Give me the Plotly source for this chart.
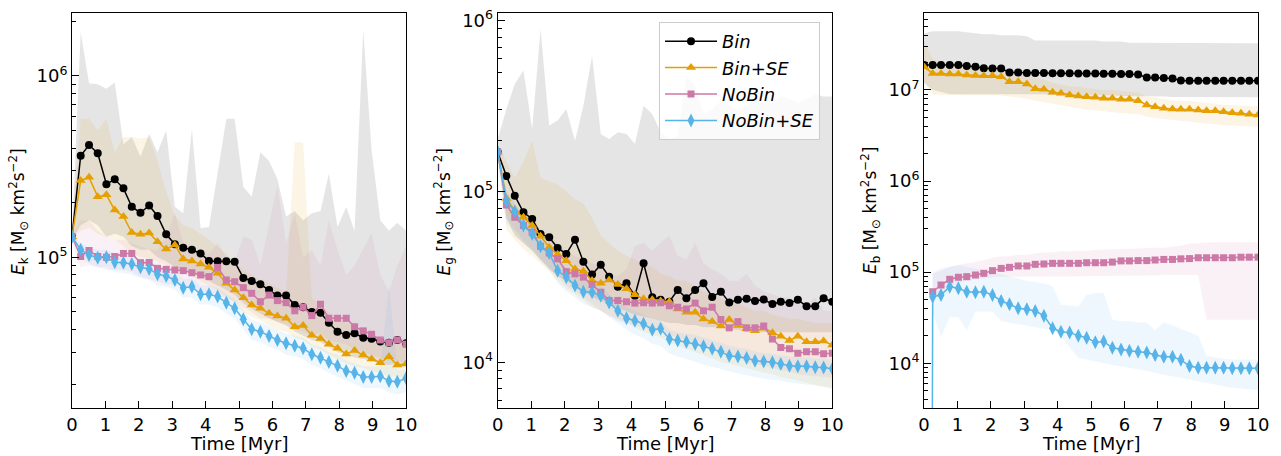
import math
import plotly.graph_objects as go

# ---------------- data ----------------
times = [0.0, 0.26, 0.51, 0.77, 1.03, 1.28, 1.54, 1.79, 2.05, 2.31, 2.56, 2.82, 3.08, 3.33,
         3.59, 3.85, 4.10, 4.36, 4.62, 4.87, 5.13, 5.38, 5.64, 5.90, 6.15, 6.41, 6.67, 6.92,
         7.18, 7.44, 7.69, 7.95, 8.21, 8.46, 8.72, 8.97, 9.23, 9.49, 9.74, 10.0]

series_names = ["Bin", "Bin+SE", "NoBin", "NoBin+SE"]

# Panel 1: kinetic energy E_k
ek_bin = [1.3e5, 3.63e5, 4.16e5, 3.75e5, 2.53e5, 2.69e5, 2.40e5, 1.90e5, 1.76e5, 1.93e5,
          1.69e5, 1.34e5, 1.18e5, 1.13e5, 1.10e5, 1.05e5, 9.55e4, 9.5e4, 9.5e4, 9.45e4,
          7.7e4, 7.4e4, 7.1e4, 6.6e4, 6.15e4, 6.15e4, 5.45e4, 5.3e4, 5.0e4, 4.95e4,
          4.36e4, 3.89e4, 3.73e4, 3.81e4, 3.6e4, 3.55e4, 3.43e4, 3.38e4, 3.5e4, 3.36e4]
ek_binse = [1.3e5, 2.65e5, 2.76e5, 2.16e5, 2.21e5, 1.82e5, 1.68e5, 1.37e5, 1.34e5, 1.36e5,
            1.22e5, 1.11e5, 1.17e5, 9.8e4, 9.55e4, 9.19e4, 8.8e4, 8.16e4, 7.2e4, 6.6e4,
            5.99e4, 5.46e4, 5.23e4, 4.91e4, 4.75e4, 4.61e4, 4.14e4, 4.2e4, 3.72e4, 3.57e4,
            3.32e4, 3.15e4, 2.93e4, 3.06e4, 2.89e4, 2.75e4, 2.62e4, 2.83e4, 2.55e4, 2.58e4]
ek_nobin = [1.3e5, 1.01e5, 1.09e5, 1.01e5, 1.0e5, 1.01e5, 1.05e5, 1.05e5, 9.34e4, 9.36e4,
            8.69e4, 8.58e4, 8.51e4, 8.44e4, 8.22e4, 7.99e4, 7.82e4, 8.8e4, 7.5e4, 7.33e4,
            6.8e4, 6.33e4, 5.69e4, 6.19e4, 5.77e4, 5.62e4, 5.07e4, 5.3e4, 4.77e4, 5.51e4,
            4.61e4, 4.61e4, 4.61e4, 4.14e4, 3.93e4, 3.76e4, 3.5e4, 3.38e4, 3.5e4, 3.32e4]
ek_nobinse = [1.3e5, 1.10e5, 1.03e5, 9.95e4, 1.0e5, 9.38e4, 9.34e4, 9.19e4, 8.8e4, 8.62e4,
              8.06e4, 7.88e4, 7.5e4, 6.8e4, 6.88e4, 6.25e4, 6.25e4, 6.07e4, 5.62e4, 5.23e4,
              4.55e4, 4.01e4, 3.89e4, 3.68e4, 3.5e4, 3.36e4, 3.25e4, 3.15e4, 2.92e4, 2.79e4,
              2.65e4, 2.52e4, 2.36e4, 2.31e4, 2.19e4, 2.19e4, 2.21e4, 2.08e4, 2.06e4, 2.15e4]

ek_bin_hi = [1.3e5, 1.75e6, 9.1e5, 9.0e5, 8.5e5, 9.2e5, 4.2e5, 4.6e5, 3.6e5, 4.8e5,
             3.8e5, 5.0e5, 1.9e5, 1.75e5, 5.1e5, 1.45e5, 1.47e5, 2.9e5, 5.8e5, 5.8e5,
             2.45e5, 2.16e5, 3.8e5, 3.4e5, 2.7e5, 1.68e5, 1.8e5, 1.6e5, 1.75e5, 1.8e5,
             2.9e5, 1.47e5, 1.9e5, 1.4e5, 1.8e6, 3.9e5, 1.6e5, 1.4e5, 1.55e5, 1.4e5]
ek_bin_lo = [1.25e5, 1.5e5, 1.6e5, 1.5e5, 1.3e5, 1.35e5, 1.3e5, 1.15e5, 1.1e5, 1.1e5,
             1.0e5, 9.5e4, 8.8e4, 8.5e4, 8.2e4, 7.8e4, 7.4e4, 7.0e4, 6.6e4, 6.2e4,
             5.6e4, 5.2e4, 4.9e4, 4.6e4, 4.4e4, 4.2e4, 3.9e4, 3.7e4, 3.5e4, 3.4e4,
             3.2e4, 3.0e4, 2.9e4, 2.8e4, 2.75e4, 2.7e4, 2.6e4, 2.55e4, 2.6e4, 2.5e4]
ek_binse_hi = [1.4e5, 5.8e5, 5.8e5, 5.0e5, 5.8e5, 3.8e5, 4.6e5, 4.6e5, 4.5e5, 4.6e5,
               3.4e5, 2.3e5, 1.7e5, 1.5e5, 1.45e5, 1.35e5, 1.25e5, 1.15e5, 1.05e5, 9.5e4,
               8.5e4, 8.0e4, 7.5e4, 7.2e4, 6.8e4, 6.5e4, 4.3e5, 4.3e5, 6.0e4, 5.5e4,
               5.0e4, 4.6e4, 4.4e4, 4.2e4, 4.0e4, 3.8e4, 3.6e4, 3.5e4, 3.4e4, 3.3e4]
ek_binse_lo = [1.25e5, 1.4e5, 1.45e5, 1.35e5, 1.3e5, 1.25e5, 1.15e5, 1.05e5, 1.0e5, 9.8e4,
               9.5e4, 9.0e4, 8.8e4, 8.2e4, 7.8e4, 7.4e4, 7.0e4, 6.6e4, 6.0e4, 5.6e4,
               5.0e4, 4.7e4, 4.5e4, 4.2e4, 4.0e4, 3.9e4, 3.6e4, 3.5e4, 3.2e4, 3.1e4,
               2.9e4, 2.75e4, 2.6e4, 2.5e4, 2.45e4, 2.35e4, 2.3e4, 2.2e4, 2.2e4, 2.15e4]
ek_nobin_hi = [1.3e5, 1.6e5, 1.6e5, 1.4e5, 1.3e5, 1.25e5, 1.25e5, 1.2e5, 1.15e5, 1.1e5,
               1.1e5, 1.3e5, 1.75e5, 1.2e5, 1.1e5, 1.05e5, 1.05e5, 1.2e5, 1.0e5, 9.5e4,
               1.3e5, 1.25e5, 9.0e4, 1.5e5, 2.5e5, 1.2e5, 1.75e5, 1.0e5, 1.1e5, 9.0e4,
               1.6e5, 1.1e5, 8.0e4, 9.0e4, 1.1e5, 1.36e5, 8.0e4, 6.5e4, 9.0e4, 1.15e5]
ek_nobin_lo = [1.2e5, 8.8e4, 9.0e4, 8.8e4, 8.5e4, 8.5e4, 8.5e4, 8.3e4, 7.8e4, 7.6e4,
               7.3e4, 7.1e4, 7.0e4, 6.9e4, 6.7e4, 6.5e4, 6.3e4, 6.3e4, 5.9e4, 5.7e4,
               5.3e4, 5.0e4, 4.6e4, 4.6e4, 4.4e4, 4.3e4, 4.0e4, 3.9e4, 3.7e4, 3.8e4,
               3.5e4, 3.4e4, 3.3e4, 3.1e4, 3.0e4, 2.9e4, 2.8e4, 2.7e4, 2.7e4, 2.6e4]
ek_nobinse_hi = [1.35e5, 1.2e5, 1.13e5, 1.1e5, 1.1e5, 1.05e5, 1.04e5, 1.02e5, 9.8e4, 9.6e4,
                 9.0e4, 8.8e4, 8.4e4, 7.6e4, 7.7e4, 7.0e4, 7.0e4, 6.8e4, 6.3e4, 5.9e4,
                 5.1e4, 4.5e4, 4.4e4, 4.2e4, 4.0e4, 3.8e4, 3.7e4, 3.6e4, 3.3e4, 3.2e4,
                 3.0e4, 2.9e4, 2.7e4, 2.6e4, 2.5e4, 2.5e4, 2.5e4, 7.0e4, 2.4e4, 2.4e4]
ek_nobinse_lo = [1.25e5, 1.0e5, 9.2e4, 8.8e4, 8.8e4, 8.3e4, 8.2e4, 8.0e4, 7.7e4, 7.5e4,
                 7.0e4, 6.9e4, 6.6e4, 6.0e4, 6.0e4, 5.5e4, 5.5e4, 5.3e4, 4.9e4, 4.6e4,
                 4.0e4, 3.5e4, 3.4e4, 3.2e4, 3.1e4, 2.9e4, 2.85e4, 2.75e4, 2.55e4, 2.45e4,
                 2.3e4, 2.2e4, 2.1e4, 2.0e4, 1.9e4, 1.9e4, 1.9e4, 1.8e4, 1.75e4, 1.8e4]

# Panel 2: potential energy E_g
eg_bin = [1.7e5, 1.23e5, 9.45e4, 7.55e4, 6.9e4, 5.64e4, 5.39e4, 4.67e4, 4.31e4, 5.22e4,
          3.88e4, 3.26e4, 3.72e4, 3.17e4, 2.77e4, 2.9e4, 2.45e4, 3.8e4, 2.4e4, 2.32e4,
          2.26e4, 2.65e4, 2.37e4, 2.65e4, 2.9e4, 2.41e4, 2.59e4, 2.24e4, 2.32e4, 2.35e4,
          2.28e4, 2.33e4, 2.19e4, 2.26e4, 2.22e4, 2.32e4, 2.13e4, 2.13e4, 2.37e4, 2.26e4]
eg_binse = [1.7e5, 9.1e4, 7.7e4, 7.06e4, 6.31e4, 5.47e4, 4.71e4, 4.27e4, 3.93e4, 3.52e4,
            3.41e4, 3.01e4, 2.9e4, 3.03e4, 2.85e4, 2.69e4, 2.48e4, 2.35e4, 2.32e4, 2.28e4,
            2.26e4, 2.05e4, 1.96e4, 1.96e4, 1.79e4, 1.73e4, 1.63e4, 1.78e4, 1.64e4, 1.57e4,
            1.53e4, 1.58e4, 1.49e4, 1.42e4, 1.34e4, 1.42e4, 1.32e4, 1.32e4, 1.33e4, 1.26e4]
eg_nobin = [1.7e5, 8.34e4, 7.06e4, 6.31e4, 5.77e4, 4.78e4, 4.36e4, 4.03e4, 3.39e4, 3.29e4,
            3.15e4, 2.85e4, 2.57e4, 2.3e4, 2.3e4, 2.26e4, 2.22e4, 2.23e4, 2.22e4, 2.23e4,
            2.14e4, 2.1e4, 2.05e4, 2.22e4, 2.0e4, 2.1e4, 1.78e4, 1.59e4, 1.73e4, 1.59e4,
            1.59e4, 1.63e4, 1.37e4, 1.22e4, 1.2e4, 1.13e4, 1.15e4, 1.15e4, 1.12e4, 1.13e4]
eg_nobinse = [1.7e5, 8.83e4, 7.63e4, 6.31e4, 5.64e4, 4.78e4, 4.36e4, 3.43e4, 3.15e4, 2.81e4,
              2.59e4, 2.57e4, 2.45e4, 2.24e4, 2.0e4, 1.81e4, 1.75e4, 1.68e4, 1.55e4, 1.57e4,
              1.37e4, 1.34e4, 1.32e4, 1.28e4, 1.24e4, 1.2e4, 1.15e4, 1.09e4, 1.08e4, 1.06e4,
              1.02e4, 1.01e4, 1.0e4, 9.78e3, 9.55e3, 9.48e3, 9.48e3, 9.35e3, 9.3e3, 9.15e3]

eg_bin_hi = [2.03e5, 3.04e5, 4.26e5, 5.1e5, 2.32e5, 8.9e5, 2.43e5, 2.6e5, 3.04e5, 1.98e5,
             3.18e5, 6.24e5, 2.17e5, 2.03e5, 2.22e5, 2.17e5, 1.9e5, 3.18e5, 2.84e5, 2.22e5,
             2.03e5, 2.1e5, 4.77e5, 4.16e5, 2.84e5, 3.04e5, 3.4e5, 3.18e5, 3.0e5, 3.2e5,
             3.5e5, 3.3e5, 3.4e5, 3.6e5, 3.5e5, 3.3e5, 3.5e5, 3.7e5, 3.6e5, 3.6e5]
eg_bin_lo = [1.6e5, 7.0e4, 5.5e4, 5.0e4, 4.5e4, 4.0e4, 3.5e4, 3.2e4, 3.0e4, 2.8e4,
             2.6e4, 2.4e4, 2.3e4, 2.2e4, 2.1e4, 2.0e4, 1.9e4, 1.85e4, 1.8e4, 1.75e4,
             1.7e4, 1.7e4, 1.65e4, 1.65e4, 1.6e4, 1.6e4, 1.6e4, 1.55e4, 1.55e4, 1.5e4,
             1.5e4, 1.5e4, 1.5e4, 1.5e4, 1.5e4, 1.5e4, 1.5e4, 1.5e4, 1.5e4, 1.5e4]
eg_binse_hi = [1.9e5, 1.5e5, 1.2e5, 1.5e5, 1.98e5, 1.2e5, 1.15e5, 1.1e5, 1.0e5, 9.0e4,
               8.5e4, 7.0e4, 5.5e4, 5.0e4, 4.5e4, 4.2e4, 4.0e4, 3.8e4, 3.6e4, 3.3e4,
               3.2e4, 3.0e4, 3.0e4, 2.8e4, 2.6e4, 2.5e4, 2.4e4, 2.3e4, 2.2e4, 2.1e4,
               2.0e4, 2.0e4, 1.9e4, 1.85e4, 1.8e4, 1.8e4, 1.75e4, 1.7e4, 1.7e4, 1.7e4]
eg_binse_lo = [1.5e5, 6.0e4, 5.2e4, 4.6e4, 4.2e4, 3.8e4, 3.4e4, 3.0e4, 2.7e4, 2.5e4,
               2.3e4, 2.1e4, 2.0e4, 1.9e4, 1.8e4, 1.7e4, 1.6e4, 1.5e4, 1.45e4, 1.4e4,
               1.3e4, 1.25e4, 1.2e4, 1.15e4, 1.1e4, 1.05e4, 1.0e4, 9.8e3, 9.5e3, 9.2e3,
               9.0e3, 8.7e3, 8.5e3, 8.2e3, 8.0e3, 7.8e3, 7.6e3, 7.4e3, 7.2e3, 7.0e3]
eg_nobin_hi = [1.75e5, 1.0e5, 8.5e4, 7.5e4, 7.0e4, 6.0e4, 5.5e4, 5.0e4, 4.5e4, 4.2e4,
               4.0e4, 3.8e4, 3.6e4, 3.3e4, 3.2e4, 3.5e4, 4.8e4, 5.0e4, 4.5e4, 5.0e4,
               5.5e4, 4.2e4, 4.0e4, 5.0e4, 3.8e4, 3.5e4, 3.3e4, 3.0e4, 3.0e4, 3.3e4,
               2.8e4, 2.6e4, 2.5e4, 2.4e4, 2.4e4, 2.2e4, 2.2e4, 2.4e4, 2.0e4, 2.0e4]
eg_nobin_lo = [1.6e5, 7.0e4, 6.0e4, 5.2e4, 4.6e4, 4.0e4, 3.6e4, 3.2e4, 2.8e4, 2.6e4,
               2.4e4, 2.2e4, 2.0e4, 1.85e4, 1.75e4, 1.7e4, 1.65e4, 1.6e4, 1.55e4, 1.5e4,
               1.45e4, 1.4e4, 1.35e4, 1.3e4, 1.25e4, 1.2e4, 1.15e4, 1.1e4, 1.05e4, 1.0e4,
               9.8e3, 9.5e3, 9.2e3, 9.0e3, 8.8e3, 8.5e3, 8.4e3, 8.3e3, 8.2e3, 8.1e3]
eg_nobinse_hi = [1.75e5, 1.0e5, 8.5e4, 7.2e4, 6.4e4, 5.4e4, 4.9e4, 3.9e4, 3.6e4, 3.2e4,
                 3.0e4, 2.9e4, 2.8e4, 2.5e4, 2.3e4, 2.1e4, 2.0e4, 1.9e4, 1.8e4, 1.75e4,
                 1.55e4, 1.5e4, 1.48e4, 1.45e4, 1.4e4, 1.35e4, 1.3e4, 1.25e4, 1.22e4, 1.2e4,
                 1.15e4, 1.14e4, 1.12e4, 1.1e4, 1.08e4, 1.07e4, 1.07e4, 1.05e4, 1.05e4, 1.03e4]
eg_nobinse_lo = [1.6e5, 6.5e4, 5.8e4, 5.0e4, 4.5e4, 3.9e4, 3.5e4, 2.9e4, 2.6e4, 2.4e4,
                 2.2e4, 2.1e4, 2.0e4, 1.85e4, 1.7e4, 1.55e4, 1.45e4, 1.38e4, 1.28e4, 1.25e4,
                 1.12e4, 1.08e4, 1.04e4, 1.0e4, 9.7e3, 9.4e3, 9.1e3, 8.8e3, 8.6e3, 8.4e3,
                 8.2e3, 8.0e3, 7.9e3, 7.8e3, 7.6e3, 7.5e3, 7.4e3, 7.3e3, 7.2e3, 7.1e3]

# Panel 3: binding energy E_b  (None = no value, 0 = zero energy)
eb_bin = [1.88e7, 1.88e7, 1.88e7, 1.88e7, 1.88e7, 1.83e7, 1.8e7, 1.73e7, 1.72e7, 1.72e7,
          1.56e7, 1.56e7, 1.54e7, 1.54e7, 1.54e7, 1.53e7, 1.53e7, 1.53e7, 1.52e7, 1.52e7,
          1.52e7, 1.51e7, 1.51e7, 1.5e7, 1.5e7, 1.48e7, 1.37e7, 1.37e7, 1.35e7, 1.34e7,
          1.27e7, 1.26e7, 1.26e7, 1.26e7, 1.26e7, 1.26e7, 1.26e7, 1.26e7, 1.26e7, 1.26e7]
eb_binse = [1.8e7, 1.52e7, 1.52e7, 1.5e7, 1.5e7, 1.46e7, 1.44e7, 1.43e7, 1.43e7, 1.4e7,
            1.23e7, 1.23e7, 1.16e7, 1.03e7, 1.02e7, 9.44e6, 9.19e6, 8.81e6, 8.59e6, 8.45e6,
            8.3e6, 8.1e6, 8.1e6, 7.9e6, 7.9e6, 7.64e6, 6.84e6, 6.56e6, 6.29e6, 6.18e6,
            6.14e6, 6.14e6, 6.03e6, 5.93e6, 5.93e6, 5.78e6, 5.64e6, 5.55e6, 5.41e6, 5.32e6]
eb_nobin = [None, 6.1e4, 7.23e4, 8.35e4, 8.79e4, 8.93e4, 9.31e4, 9.72e4, 1.04e5, 1.1e5,
            1.13e5, 1.17e5, 1.17e5, 1.22e5, 1.23e5, 1.25e5, 1.25e5, 1.25e5, 1.25e5, 1.27e5,
            1.27e5, 1.27e5, 1.29e5, 1.33e5, 1.33e5, 1.34e5, 1.34e5, 1.36e5, 1.38e5, 1.38e5,
            1.4e5, 1.41e5, 1.44e5, 1.44e5, 1.44e5, 1.44e5, 1.44e5, 1.46e5, 1.46e5, 1.46e5]
eb_nobinse = [0, 5.38e4, 5.62e4, 6.94e4, 6.65e4, 6.1e4, 6.01e4, 6.1e4, 5.62e4, 4.83e4,
              4.44e4, 4.01e4, 3.91e4, 3.75e4, 3.33e4, 2.42e4, 2.22e4, 2.17e4, 2.01e4, 1.91e4,
              1.7e4, 1.73e4, 1.48e4, 1.42e4, 1.37e4, 1.34e4, 1.31e4, 1.23e4, 1.18e4, 1.18e4,
              1.09e4, 9.33e3, 8.95e3, 8.95e3, 8.95e3, 8.95e3, 8.81e3, 8.81e3, 8.81e3, 8.81e3]

eb_bin_hi = [4.2e7, 4.4e7, 4.4e7, 4.4e7, 4.4e7, 4.3e7, 4.2e7, 4.1e7, 4.1e7, 4.0e7,
             4.0e7, 4.0e7, 3.9e7, 3.5e7, 3.5e7, 3.5e7, 3.5e7, 3.5e7, 3.5e7, 3.5e7,
             3.5e7, 3.4e7, 3.4e7, 3.4e7, 3.3e7, 3.3e7, 3.3e7, 3.3e7, 3.3e7, 3.3e7,
             3.3e7, 3.3e7, 3.25e7, 3.25e7, 3.25e7, 3.25e7, 3.25e7, 3.25e7, 3.25e7, 3.25e7]
eb_bin_lo = [1.2e7, 1.0e7, 9.5e6, 9.0e6, 9.0e6, 9.0e6, 9.0e6, 9.0e6, 9.0e6, 9.0e6,
             9.0e6, 9.0e6, 9.0e6, 9.0e6, 9.0e6, 8.8e6, 8.8e6, 8.8e6, 8.8e6, 8.8e6,
             8.7e6, 8.7e6, 8.7e6, 8.6e6, 8.6e6, 8.6e6, 8.5e6, 8.5e6, 8.5e6, 8.4e6,
             8.4e6, 8.4e6, 8.4e6, 8.3e6, 8.3e6, 8.3e6, 8.3e6, 8.3e6, 8.3e6, 8.3e6]
eb_binse_hi = [3.4e7, 2.2e7, 2.0e7, 1.9e7, 1.9e7, 1.85e7, 1.8e7, 1.8e7, 1.8e7, 1.75e7,
               1.6e7, 1.55e7, 1.5e7, 1.35e7, 1.3e7, 1.2e7, 1.15e7, 1.1e7, 1.08e7, 1.05e7,
               1.03e7, 1.0e7, 1.0e7, 9.8e6, 9.7e6, 9.4e6, 8.5e6, 8.2e6, 7.9e6, 7.7e6,
               7.6e6, 7.6e6, 7.4e6, 7.2e6, 7.1e6, 6.9e6, 6.8e6, 6.7e6, 6.6e6, 6.6e6]
eb_binse_lo = [1.2e7, 9.0e6, 8.8e6, 8.8e6, 8.8e6, 8.8e6, 8.8e6, 8.8e6, 8.8e6, 8.7e6,
               8.5e6, 8.3e6, 8.0e6, 7.6e6, 7.3e6, 7.0e6, 6.8e6, 6.5e6, 6.3e6, 6.1e6,
               6.0e6, 5.8e6, 5.7e6, 5.6e6, 5.5e6, 5.4e6, 5.1e6, 4.9e6, 4.8e6, 4.7e6,
               4.6e6, 4.5e6, 4.4e6, 4.3e6, 4.2e6, 4.1e6, 4.1e6, 4.0e6, 4.0e6, 3.95e6]
eb_nobin_hi = [None, 9.5e4, 1.05e5, 1.15e5, 1.2e5, 1.25e5, 1.3e5, 1.35e5, 1.45e5, 1.5e5,
               1.5e5, 1.55e5, 1.55e5, 1.6e5, 1.65e5, 1.65e5, 1.7e5, 1.7e5, 1.7e5, 1.72e5,
               1.75e5, 1.75e5, 1.78e5, 1.8e5, 1.82e5, 1.83e5, 1.85e5, 1.85e5, 1.85e5, 1.9e5,
               1.95e5, 2.05e5, 2.1e5, 2.12e5, 2.13e5, 2.13e5, 2.13e5, 2.13e5, 2.13e5, 2.13e5]
eb_nobin_lo = [None, 5.0e4, 6.0e4, 7.0e4, 7.5e4, 8.0e4, 8.3e4, 8.6e4, 8.8e4, 8.9e4,
               8.9e4, 8.9e4, 9.0e4, 9.0e4, 9.0e4, 9.0e4, 9.0e4, 9.0e4, 9.0e4, 9.0e4,
               9.1e4, 9.1e4, 9.1e4, 9.1e4, 9.2e4, 9.2e4, 9.2e4, 9.2e4, 9.3e4, 9.3e4,
               9.3e4, 9.3e4, 9.3e4, 3.0e4, 3.0e4, 3.0e4, 3.0e4, 3.0e4, 3.0e4, 3.0e4]
eb_nobinse_hi = [None, 1.0e5, 1.1e5, 1.15e5, 1.2e5, 1.15e5, 1.1e5, 1.05e5, 1.0e5, 9.5e4,
                 9.0e4, 8.5e4, 8.0e4, 7.8e4, 7.5e4, 7.0e4, 4.4e4, 4.3e4, 4.2e4, 5.6e4,
                 5.9e4, 5.9e4, 3.0e4, 2.9e4, 2.9e4, 2.8e4, 2.8e4, 2.3e4, 2.8e4, 2.6e4,
                 2.4e4, 2.2e4, 2.0e4, 1.2e4, 1.15e4, 1.12e4, 1.1e4, 1.1e4, 1.1e4, 1.1e4]
eb_nobinse_lo = [None, 3.5e4, 1.95e4, 3.2e4, 3.2e4, 2.3e4, 3.7e4, 3.7e4, 3.7e4, 2.9e4,
                 2.8e4, 2.7e4, 2.6e4, 2.5e4, 2.4e4, 2.4e4, 2.0e4, 1.5e4, 1.15e4, 1.1e4,
                 1.05e4, 1.0e4, 9.6e3, 9.3e3, 9.0e3, 8.6e3, 8.2e3, 7.8e3, 7.5e3, 7.2e3,
                 6.9e3, 6.6e3, 6.3e3, 6.0e3, 5.8e3, 5.6e3, 5.4e3, 5.3e3, 5.2e3, 5.1e3]

y_ranges_log = [(4.169, 6.347), (3.732, 6.045), (3.509, 7.845)]
y_titles = ["<i>E</i><sub>k</sub> [M<sub>⊙</sub> km<sup>2</sup>s<sup>−2</sup>]",
            "<i>E</i><sub>g</sub> [M<sub>⊙</sub> km<sup>2</sup>s<sup>−2</sup>]",
            "<i>E</i><sub>b</sub> [M<sub>⊙</sub> km<sup>2</sup>s<sup>−2</sup>]"]
x_tick_vals = [0, 1, 2, 3, 4, 5, 6, 7, 8, 9, 10]

# ---------------- styling ----------------
COLORS = ["#000000", "#E69F00", "#CC79A7", "#56B4E9"]
FILLS = ["rgba(0,0,0,0.10)", "rgba(230,159,0,0.10)", "rgba(204,121,167,0.10)", "rgba(86,180,233,0.10)"]
SYMBOLS = ["circle", "triangle-up", "square", "diamond-tall"]
MSIZES = [8, 9, 7, 10]
FONT = "DejaVu Sans"

panels = [
    ([ek_bin, ek_binse, ek_nobin, ek_nobinse],
     [ek_bin_lo, ek_binse_lo, ek_nobin_lo, ek_nobinse_lo],
     [ek_bin_hi, ek_binse_hi, ek_nobin_hi, ek_nobinse_hi]),
    ([eg_bin, eg_binse, eg_nobin, eg_nobinse],
     [eg_bin_lo, eg_binse_lo, eg_nobin_lo, eg_nobinse_lo],
     [eg_bin_hi, eg_binse_hi, eg_nobin_hi, eg_nobinse_hi]),
    ([eb_bin, eb_binse, eb_nobin, eb_nobinse],
     [eb_bin_lo, eb_binse_lo, eb_nobin_lo, eb_nobinse_lo],
     [eb_bin_hi, eb_binse_hi, eb_nobin_hi, eb_nobinse_hi]),
]


def valid(xs, ys):
    px, py = [], []
    for a, b in zip(xs, ys):
        if b is not None:
            px.append(a)
            py.append(b)
    return px, py


def clip_nonpos(ys):
    # mimic matplotlib log-scale clipping of zero values
    return [(v if (v is None or v > 0) else 1e-30) for v in ys]


fig = go.Figure()
for p, (lines, los, his) in enumerate(panels):
    xa = "x" if p == 0 else "x%d" % (p + 1)
    ya = "y" if p == 0 else "y%d" % (p + 1)
    for k in range(4):
        xl, yl = valid(times, los[k])
        xh, yh = valid(times, his[k])
        fig.add_trace(go.Scatter(x=xl, y=yl, mode="lines", xaxis=xa, yaxis=ya,
                                 line=dict(width=0, color="rgba(0,0,0,0)"),
                                 hoverinfo="skip", showlegend=False))
        fig.add_trace(go.Scatter(x=xh, y=yh, mode="lines", xaxis=xa, yaxis=ya,
                                 line=dict(width=0, color="rgba(0,0,0,0)"),
                                 fill="tonexty", fillcolor=FILLS[k],
                                 hoverinfo="skip", showlegend=False))
    for k in range(4):
        xv, yv = valid(times, clip_nonpos(lines[k]))
        fig.add_trace(go.Scatter(
            x=xv, y=yv, mode="lines+markers", xaxis=xa, yaxis=ya,
            name="<i>%s</i>" % series_names[k],
            line=dict(color=COLORS[k], width=1.5),
            marker=dict(symbol=SYMBOLS[k], size=MSIZES[k], color=COLORS[k], line=dict(width=0)),
            showlegend=(p == 1), legendrank=k + 1))

W, H = 1281, 456
ML, MR, MT, MB = 72, 23, 13, 48
PW = W - ML - MR
PH = H - MT - MB
domains = [(0.0, (406 - ML) / PW), ((497.7 - ML) / PW, (832.3 - ML) / PW), ((924 - ML) / PW, 1.0)]

layout = dict(
    width=W, height=H,
    margin=dict(l=ML, r=MR, t=MT, b=MB, pad=0),
    paper_bgcolor="white", plot_bgcolor="white",
    font=dict(family=FONT, color="black", size=16),
    legend=dict(x=(659 - ML) / PW, y=1 - (22 - MT) / PH, xanchor="left", yanchor="top",
                bgcolor="rgba(255,255,255,0.8)", bordercolor="#cccccc", borderwidth=1,
                font=dict(family=FONT, size=18, color="black"), itemwidth=52,
                traceorder="normal"),
    showlegend=True,
)

for p in range(3):
    sx = "" if p == 0 else str(p + 1)
    lo, hi = y_ranges_log[p]
    majors = [10 ** e for e in range(int(lo) + 1, int(hi) + 1)]
    minors = []
    for e in range(int(lo), int(hi) + 1):
        for m in range(2, 10):
            v = m * 10 ** e
            if lo <= math.log10(v) <= hi:
                minors.append(v)
    layout["xaxis" + sx] = dict(
        domain=list(domains[p]), anchor="y" + sx, range=[0, 10],
        tickvals=x_tick_vals, ticks="inside", ticklen=7, tickwidth=1, tickcolor="black",
        showline=True, linecolor="black", linewidth=1, mirror=True, automargin=False,
        showgrid=False, zeroline=False, tickfont=dict(size=18, family=FONT))
    layout["yaxis" + sx] = dict(
        domain=[0, 1], anchor="x" + sx, type="log", range=[lo, hi], automargin=False,
        tickvals=majors, ticktext=["10<sup>%d</sup>" % round(math.log10(v)) for v in majors],
        ticks="inside", ticklen=7, tickwidth=1, tickcolor="black",
        minor=dict(tickvals=minors, ticks="inside", ticklen=4, tickwidth=1, tickcolor="black", showgrid=False),
        showline=True, linecolor="black", linewidth=1, mirror=True,
        showgrid=False, zeroline=False, tickfont=dict(size=18, family=FONT))

fig.update_layout(**layout)

ytitle_x = [18, 443.5, 870]
ytitle_y = [212, 212, 211]
for p in range(3):
    fig.add_annotation(text=y_titles[p], xref="paper", yref="paper",
                       x=(ytitle_x[p] - ML) / PW, y=1 - (ytitle_y[p] - MT) / PH,
                       xanchor="center", yanchor="middle", textangle=-90, showarrow=False,
                       font=dict(size=17, family=FONT, color="black"))
    cx = (domains[p][0] + domains[p][1]) / 2
    fig.add_annotation(text="Time [Myr]", xref="paper", yref="paper",
                       x=cx, y=1 - (443 - MT) / PH, xanchor="center", yanchor="middle",
                       showarrow=False, font=dict(size=18, family=FONT, color="black"))

fig.write_html("out.html", config={"displayModeBar": False},
               post_script="document.body.style.margin='0px';")
